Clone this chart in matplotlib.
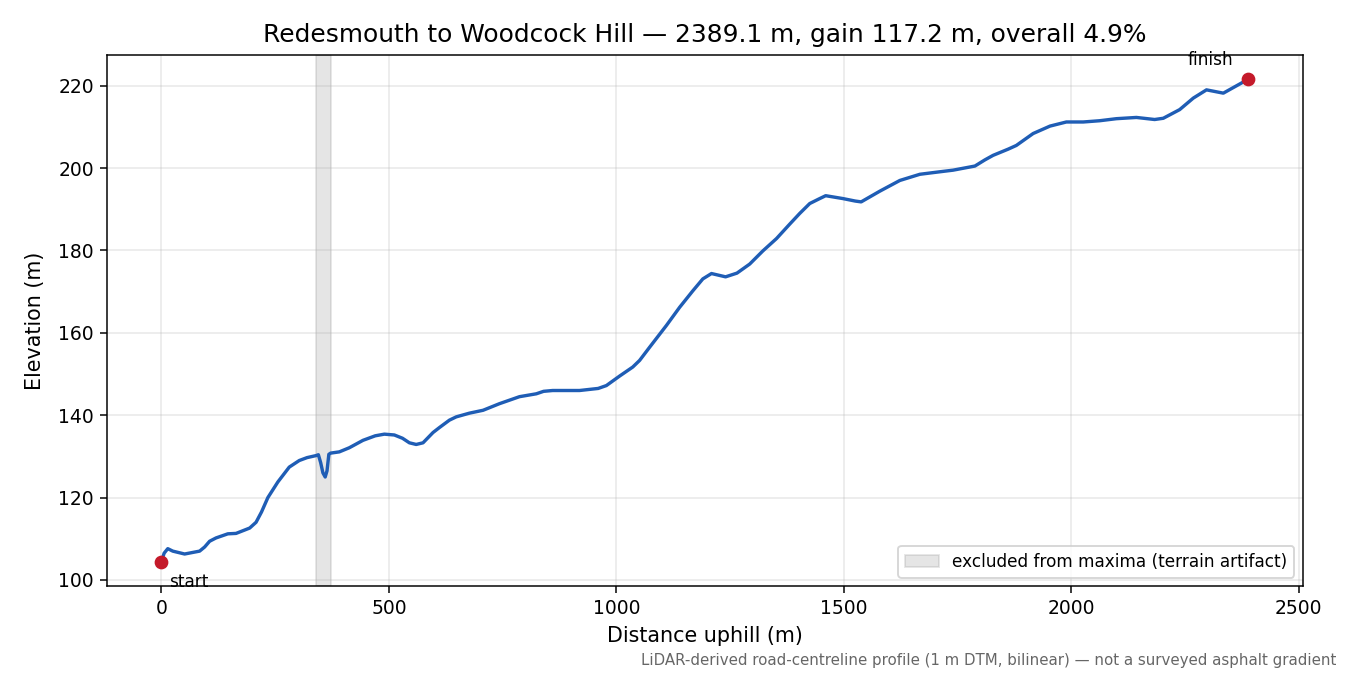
import matplotlib
matplotlib.use("Agg")
import matplotlib.pyplot as plt

dist = [0, 6, 14, 25, 51, 84, 95, 106, 120, 146, 164, 194, 208, 220, 234, 256, 281, 303,
        320, 340, 345, 350, 355, 360, 364, 368, 372, 391, 413, 443, 470, 490, 512, 530,
        545, 560, 575, 597, 611, 633, 648, 677, 707, 743, 787, 824, 840, 860, 919, 960,
        978, 1007, 1036, 1051, 1073, 1110, 1139, 1168, 1190, 1209, 1240, 1265, 1293,
        1322, 1352, 1381, 1403, 1425, 1445, 1460, 1498, 1525, 1538, 1579, 1623, 1667,
        1703, 1740, 1788, 1810, 1828, 1861, 1879, 1916, 1953, 1989, 2026, 2062, 2099,
        2143, 2183, 2202, 2238, 2268, 2297, 2334, 2389.1]
elev = [104.4, 106.5, 107.6, 107.0, 106.3, 107.0, 108.0, 109.4, 110.2, 111.2, 111.3,
        112.6, 114.0, 116.5, 120.0, 123.8, 127.4, 129.0, 129.7, 130.2, 130.4, 128.5,
        126.0, 125.0, 126.5, 130.5, 130.8, 131.1, 132.1, 133.9, 135.0, 135.4, 135.2,
        134.4, 133.3, 132.9, 133.3, 135.8, 137.0, 138.8, 139.6, 140.5, 141.2, 142.8,
        144.5, 145.2, 145.8, 146.0, 146.0, 146.5, 147.2, 149.5, 151.7, 153.3, 156.5,
        161.8, 166.2, 170.2, 173.1, 174.4, 173.6, 174.5, 176.7, 179.9, 182.9, 186.4,
        189.0, 191.4, 192.5, 193.3, 192.6, 192.0, 191.8, 194.4, 197.0, 198.5, 199.0,
        199.5, 200.5, 202.0, 203.1, 204.6, 205.5, 208.4, 210.2, 211.2, 211.2, 211.5,
        212.0, 212.3, 211.8, 212.1, 214.2, 217.0, 219.0, 218.2, 221.6]
artifact_span = [340, 372]
title = "Redesmouth to Woodcock Hill \u2014 2389.1 m, gain 117.2 m, overall 4.9%"
footer = "LiDAR-derived road-centreline profile (1 m DTM, bilinear) \u2014 not a surveyed asphalt gradient"

fig = plt.figure(figsize=(10, 5), dpi=135)
ax = fig.add_axes([0.0793, 0.1319, 0.8857, 0.7866])
ax.axvspan(artifact_span[0], artifact_span[1], color="gray", alpha=0.2,
           label="excluded from maxima (terrain artifact)")
ax.plot(dist, elev, color="#1f5db5", lw=1.8, zorder=3)
ax.scatter([dist[0], dist[-1]], [elev[0], elev[-1]], color="#c41a2a", s=40, zorder=4)
ax.annotate("start", (dist[0], elev[0]), xytext=(4, -11), textcoords="offset points",
            ha="left", va="center", fontsize=9)
ax.annotate("finish", (dist[-1], elev[-1]), xytext=(-8, 10), textcoords="offset points",
            ha="right", va="center", fontsize=9)
ax.grid(True, alpha=0.3)
ax.set_title(title, fontsize=13.25, pad=7)
ax.set_xlabel("Distance uphill (m)", fontsize=11)
ax.set_ylabel("Elevation (m)", fontsize=11, labelpad=7)
ax.legend(loc="lower right", fontsize=9)
fig.text(0.99, 0.022, footer, ha="right", va="center", fontsize=8, color="#666666")
fig.savefig("out.png", dpi=135)
